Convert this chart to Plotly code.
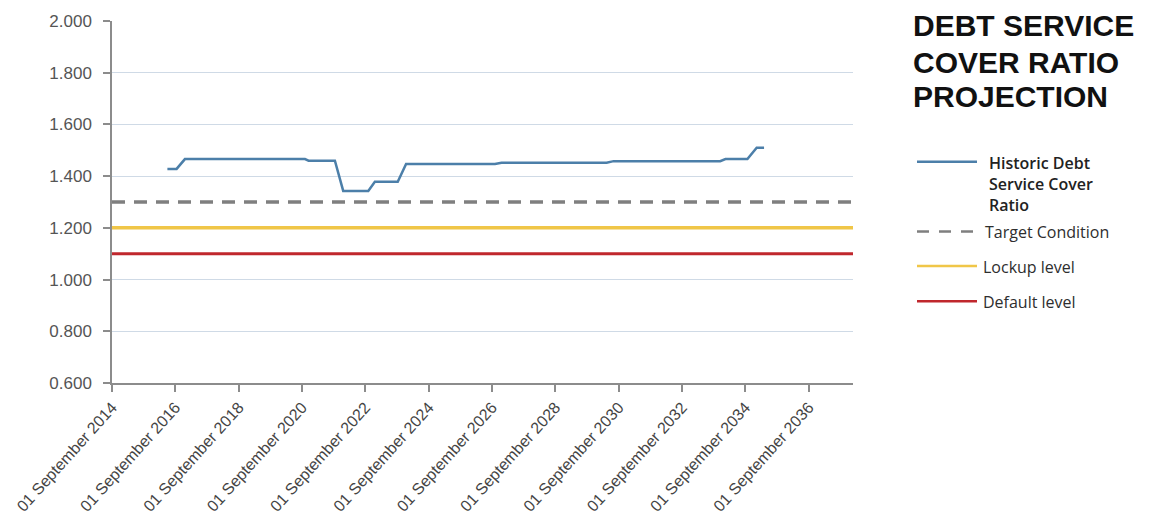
import plotly.graph_objects as go

# Historic debt service cover ratio (step points)
hist_dates = [
    "2016-06-01", "2016-09-15", "2016-12-20", "2020-10-05", "2020-11-15",
    "2021-09-15", "2021-12-20", "2022-10-05", "2022-12-20", "2023-09-10",
    "2023-12-15", "2026-10-05", "2026-12-20", "2030-04-15", "2030-07-05",
    "2033-11-15", "2034-01-15", "2034-09-25", "2035-01-10", "2035-04-05",
]
hist_values = [
    1.428, 1.428, 1.466, 1.466, 1.460,
    1.460, 1.343, 1.343, 1.378, 1.378,
    1.447, 1.447, 1.452, 1.452, 1.458,
    1.458, 1.466, 1.466, 1.510, 1.510,
]

# Covenant thresholds
target_level = 1.30
lockup_level = 1.20
default_level = 1.10

x_start = "2014-09-01"
x_end = "2038-01-25"

tick_years = list(range(2014, 2037, 2))
tick_dates = [f"{y}-09-01" for y in tick_years]
tick_labels = [f"01 September {y}" for y in tick_years]

title_lines = ["DEBT SERVICE", "COVER RATIO", "PROJECTION"]
legend_names = ["Historic Debt<br>Service Cover<br>Ratio", "Target Condition",
                "Lockup level", "Default level"]

c_hist = "#4C7FA9"
c_target = "#7F7F7F"
c_lockup = "#F0C648"
c_default = "#C0272D"

fig = go.Figure()

fig.add_trace(go.Scatter(x=[x_start, x_end], y=[target_level, target_level],
                         mode="lines", line=dict(color=c_target, width=3.5, dash="13px,9px"),
                         hoverinfo="skip"))
fig.add_trace(go.Scatter(x=[x_start, x_end], y=[lockup_level, lockup_level],
                         mode="lines", line=dict(color=c_lockup, width=3.5),
                         hoverinfo="skip"))
fig.add_trace(go.Scatter(x=[x_start, x_end], y=[default_level, default_level],
                         mode="lines", line=dict(color=c_default, width=3),
                         hoverinfo="skip"))
fig.add_trace(go.Scatter(x=hist_dates, y=hist_values, mode="lines",
                         line=dict(color=c_hist, width=2.5)))

fig.update_layout(
    width=1150, height=527,
    margin=dict(l=112, r=297, t=17, b=142),
    paper_bgcolor="white", plot_bgcolor="white",
    showlegend=False,
    font=dict(family="Liberation Sans, Arial, sans-serif", color="#404040"),
)

fig.update_xaxes(
    type="date", range=[x_start, x_end],
    tickmode="array", tickvals=tick_dates, ticktext=tick_labels,
    tickangle=-48, tickfont=dict(size=16, color="#444444"),
    ticks="outside", ticklen=7, tickcolor="#8C8C8C", tickwidth=1.5,
    showline=True, linecolor="#8C8C8C", linewidth=1.5,
    showgrid=False, zeroline=False,
)
fig.update_yaxes(
    range=[0.6, 2.0], dtick=0.2, tick0=0.6, tickformat=".3f",
    tickfont=dict(size=17, color="#555555"),
    ticks="outside", ticklen=7, tickcolor="#8C8C8C", tickwidth=1.5,
    ticklabelstandoff=8,
    showline=True, linecolor="#8C8C8C", linewidth=1.5,
    showgrid=True, gridcolor="#CFDAE6", gridwidth=1.2, zeroline=False,
)


def px_x(px):
    return (px - 112) / 741


def px_y(py):
    return (385 - py) / 368


# Title block at the right of the plot, one annotation per line
for line_text, top_px in zip(title_lines, (3, 40, 75)):
    fig.add_annotation(
        text=f"<b>{line_text}</b>",
        xref="paper", yref="paper", x=px_x(911), y=px_y(top_px),
        xanchor="left", yanchor="top", align="left", showarrow=False,
        font=dict(family="Liberation Sans, Arial, sans-serif", size=30, color="#111111"),
    )

# Hand-drawn legend keys
legend_rows = [
    (160, dict(color=c_hist, width=2.5)),
    (231, dict(color=c_target, width=2.5, dash="dash")),
    (266, dict(color=c_lockup, width=2.5)),
    (302, dict(color=c_default, width=2.5)),
]
for (py, line_style) in legend_rows:
    if line_style.get("dash"):
        for x0 in (917, 939, 961):
            fig.add_shape(type="line", xref="paper", yref="paper",
                          x0=px_x(x0), x1=px_x(x0 + 12), y0=px_y(py), y1=px_y(py),
                          line=dict(color=line_style["color"], width=2.5))
    else:
        fig.add_shape(type="line", xref="paper", yref="paper",
                      x0=px_x(917), x1=px_x(977), y0=px_y(py), y1=px_y(py),
                      line=line_style)

legend_text_pos = [(987, 148), (983, 231), (981, 267), (981, 303)]
for name, (tx, ty), idx in zip(legend_names, legend_text_pos, range(4)):
    fig.add_annotation(
        text=name, xref="paper", yref="paper",
        x=px_x(tx), y=px_y(ty),
        xanchor="left", yanchor="top" if idx == 0 else "middle",
        align="left", showarrow=False,
        font=dict(family="Open Sans, sans-serif", size=16,
                  color="#222222" if idx == 0 else "#2E2E2E",
                  weight=600 if idx == 0 else 400),
    )

fig.write_html("out.html")
